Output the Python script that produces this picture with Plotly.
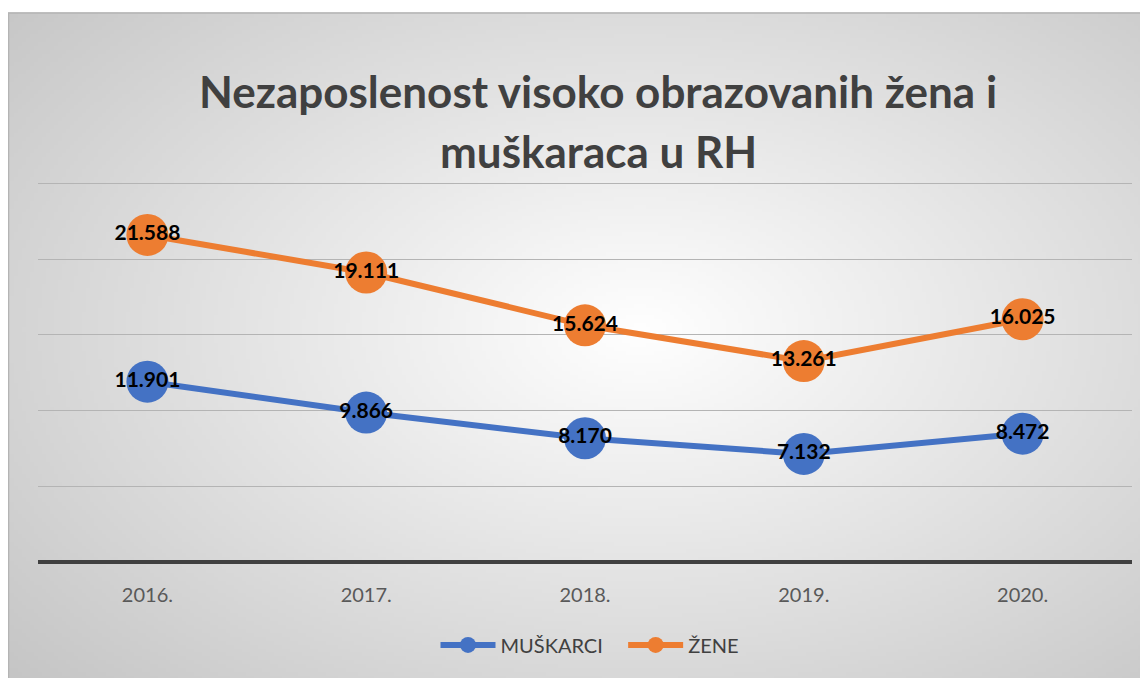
import base64, struct, zlib
import numpy as np
import plotly.graph_objects as go

years = ["2016.", "2017.", "2018.", "2019.", "2020."]
muskarci = [11.901, 9.866, 8.170, 7.132, 8.472]
zene = [21.588, 19.111, 15.624, 13.261, 16.025]
title_lines = ["Nezaposlenost visoko obrazovanih žena i", "muškaraca u RH"]

OFF = 8  # page body margin
W, H = 1148, 678
YMAX = 25.15
SCALE = (562 - 183) / 25.0  # px per unit
TOP_PAGE = 562 - YMAX * SCALE
L, T = 38 - OFF, TOP_PAGE - OFF
R, B = W - (1132 - OFF), H - (562 - OFF)
PW, PH = W - L - R, H - T - B

# radial gradient background as PNG
gw, gh = 287, 170
xs = np.linspace(8, W + OFF, gw)
ys = np.linspace(12, H + OFF, gh)
X, Y = np.meshgrid(xs, ys)
d = np.sqrt(((X - 640) / 620) ** 2 + ((Y - 330) / 380) ** 2)
g = np.clip(255 - 42 * d, 0, 255).astype(np.uint8)


def png_gray(a):
    h, w = a.shape
    raw = b"".join(b"\x00" + a[i].tobytes() for i in range(h))
    def chunk(t, data):
        c = struct.pack(">I", len(data)) + t + data
        return c + struct.pack(">I", zlib.crc32(t + data) & 0xffffffff)
    return (b"\x89PNG\r\n\x1a\n" + chunk(b"IHDR", struct.pack(">IIBBBBB", w, h, 8, 0, 0, 0, 0))
            + chunk(b"IDAT", zlib.compress(raw, 9)) + chunk(b"IEND", b""))


img = "data:image/png;base64," + base64.b64encode(png_gray(g)).decode()


def px(x):  # page x -> paper
    return (x - OFF - L) / PW


def py(y):  # page y -> paper
    return (H - B - (y - OFF)) / PH


label_font = dict(family="Lato", size=21, color="#000000", weight="bold")

fig = go.Figure()
fig.add_trace(go.Scatter(
    x=years, y=muskarci, name="MUŠKARCI\u00a0\u00a0\u00a0", mode="lines+markers+text",
    line=dict(color="#4472C4", width=6), marker=dict(size=42, color="#4472C4"),
    text=[f"{v:.3f}" for v in muskarci], textposition="middle center",
    textfont=label_font, cliponaxis=False,
))
fig.add_trace(go.Scatter(
    x=years, y=zene, name="ŽENE", mode="lines+markers+text",
    line=dict(color="#ED7D31", width=6), marker=dict(size=42, color="#ED7D31"),
    text=[f"{v:.3f}" for v in zene], textposition="middle center",
    textfont=label_font, cliponaxis=False,
))

fig.add_layout_image(dict(
    source=img, xref="paper", yref="paper",
    x=px(8), y=py(12), sizex=(W + OFF - 8) / PW, sizey=(H + OFF - 12) / PH,
    xanchor="left", yanchor="top", sizing="stretch", layer="below",
))
fig.add_shape(type="rect", xref="paper", yref="paper",
              x0=px(8.5), y0=py(H + 20), x1=px(W + 20), y1=py(12.5),
              line=dict(color="#b4b4b4", width=1.5), layer="above")

for t, yy in zip(title_lines, [91, 151]):
    fig.add_annotation(text=t, xref="paper", yref="paper", x=px(598), y=py(yy),
                       xanchor="center", yanchor="middle", showarrow=False,
                       font=dict(family="Lato", size=44, color="#404040", weight="bold"))

fig.update_layout(
    width=W, height=H,
    margin=dict(l=L, r=R, t=T, b=B, pad=0),
    paper_bgcolor="rgba(0,0,0,0)", plot_bgcolor="rgba(0,0,0,0)",
    showlegend=True,
    legend=dict(orientation="h", x=px(590), xanchor="center", y=py(645), yanchor="middle",
                font=dict(family="Lato", size=20, color="#404040"),
                bgcolor="rgba(255,255,255,0)", itemwidth=55),
    xaxis=dict(range=[-0.5, 4.5], showgrid=False, showline=False, zeroline=False,
               ticks="", tickfont=dict(family="Lato", size=20, color="#595959"),
               ticklabelstandoff=19),
    yaxis=dict(range=[0, YMAX], tick0=0, dtick=5, showgrid=True, gridcolor="#b4b4b4", gridwidth=1.2,
               zeroline=True, zerolinecolor="#404040", zerolinewidth=3.5,
               showticklabels=False, showline=False, ticks=""),
)

fig.write_html("out.html")
